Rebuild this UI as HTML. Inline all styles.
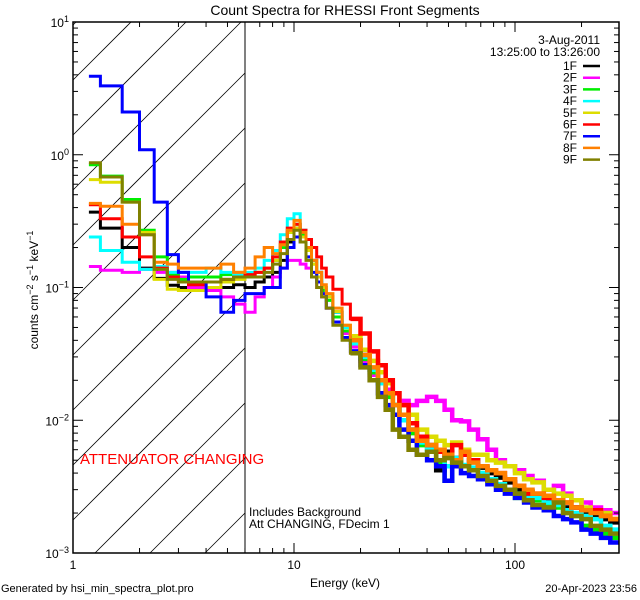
<!DOCTYPE html>
<html><head><meta charset="utf-8"><style>
html,body{margin:0;background:#fff;width:640px;height:600px;overflow:hidden;}
svg{display:block;font-family:"Liberation Sans",sans-serif;}
</style></head><body>
<svg id="chart" width="640" height="600" xmlns="http://www.w3.org/2000/svg">
<rect width="640" height="600" fill="#fff"/>
<text x="345" y="15" font-size="14" text-anchor="middle">Count Spectra for RHESSI Front Segments</text>
<defs><clipPath id="pc"><rect x="73" y="22" width="546" height="531"/></clipPath></defs>
<g id="hatch"></g>
<line x1="245" y1="22" x2="245" y2="553" stroke="#000"/>
<g id="series" clip-path="url(#pc)"></g>
<rect x="73" y="22" width="546" height="531" fill="none" stroke="#000" stroke-width="1.5"/>
<g id="axes"></g>
<text transform="translate(38,290) rotate(-90)" font-size="12" text-anchor="middle">counts cm<tspan dy="-5" font-size="9">−2</tspan><tspan dy="5"> s</tspan><tspan dy="-5" font-size="9">−1</tspan><tspan dy="5"> keV</tspan><tspan dy="-5" font-size="9">−1</tspan></text>
<text x="345" y="587" font-size="12" text-anchor="middle">Energy (keV)</text>
<text x="80" y="464" font-size="15" fill="#ff0000">ATTENUATOR CHANGING</text>
<text x="249" y="516" font-size="12">Includes Background</text>
<text x="249" y="528" font-size="12">Att CHANGING, FDecim 1</text>
<text x="1" y="592" font-size="11">Generated by hsi_min_spectra_plot.pro</text>
<text x="637" y="592" font-size="11" text-anchor="end">20-Apr-2023 23:56</text>
<text x="600" y="44" font-size="12" text-anchor="end">3-Aug-2011</text>
<text x="600" y="56" font-size="12" text-anchor="end">13:25:00 to 13:26:00</text>
<g id="legend"></g>
</svg>
<script>
const edges=[1.18,1.33,1.67,2.0,2.33,2.67,3.0,3.33,4,4.67,5.33,6,6.67,7.33,8,8.67,9.33,10,10.67,11.33,12,12.67,13.33,14,15,16.5,18,20,22,24,26,28,30,33,36,40,44,48,52,57,62,68,75,82,90,100,110,120,135,150,165,180,200,220,245,270,300];
const names=["1F","2F","3F","4F","5F","6F","7F","8F","9F"];
const colors=["#000000","#ff00ff","#00ee00","#00ffff","#dddd00","#ff0000","#0000ff","#ff8000","#808000"];
const s1F=[0.37,0.28,0.2,0.14,0.117,0.104,0.1, 0.095,0.1,0.1,0.105,0.1,0.11,0.12,0.13,0.16,0.22, 0.28,0.26,0.2,0.16,0.13,0.1,0.085,0.065,0.05,0.04, 0.031,0.024,0.02,0.016,0.013,0.011,0.0085,0.007,0.0065,0.0042, 0.0058,0.0052,0.0045,0.005,0.0044,0.004,0.0037,0.0034,0.003,0.0029, 0.0026,0.0025,0.0024,0.0022,0.0022,0.002,0.0019,0.0018,0.0017];
const s2F=[0.144,0.135,0.13,0.137,0.13,0.13,0.12, 0.1,0.095,0.085,0.075,0.065,0.085,0.1,0.12,0.14,0.16, 0.16,0.15,0.14,0.12,0.1,0.085,0.07,0.055,0.045,0.036, 0.028,0.022,0.019,0.017,0.016,0.014,0.013,0.014,0.015,0.014, 0.012,0.01,0.0098,0.0085,0.0072,0.006,0.005,0.0045,0.0042,0.0038, 0.0035,0.003,0.0032,0.0028,0.0025,0.0024,0.0022,0.0021,0.002];
const s3F=[0.84,0.69,0.46,0.27,0.17,0.125,0.115, 0.12,0.12,0.125,0.13,0.125,0.13,0.14,0.16,0.2,0.26, 0.3,0.25,0.19,0.15,0.12,0.095,0.08,0.06,0.047,0.038, 0.029,0.023,0.019,0.015,0.013,0.01,0.008,0.0065,0.006,0.0048, 0.0035,0.005,0.0045,0.0042,0.004,0.0035,0.0033,0.003,0.0026,0.0027, 0.0025,0.0023,0.0022,0.002,0.0019,0.0016,0.0015,0.0014,0.0013];
const s4F=[0.24,0.19,0.155,0.137,0.144,0.13,0.13, 0.13,0.14,0.13,0.125,0.13,0.14,0.16,0.19,0.25,0.33, 0.36,0.27,0.2,0.16,0.13,0.1,0.085,0.065,0.05,0.038, 0.03,0.024,0.019,0.016,0.013,0.01,0.0085,0.0068,0.006,0.005, 0.0045,0.0052,0.0046,0.0044,0.004,0.0036,0.0033,0.003,0.0028,0.0026, 0.0026,0.0024,0.0023,0.0021,0.002,0.0019,0.0018,0.0016,0.0015];
const s5F=[0.65,0.62,0.44,0.26,0.115,0.097,0.095, 0.095,0.1,0.11,0.115,0.12,0.13,0.14,0.16,0.21,0.26, 0.28,0.24,0.19,0.15,0.12,0.1,0.085,0.066,0.052,0.043, 0.034,0.028,0.023,0.019,0.016,0.013,0.011,0.0085,0.0075,0.007, 0.0065,0.0068,0.006,0.0055,0.0055,0.005,0.0048,0.0045,0.004,0.0036, 0.0034,0.003,0.0028,0.0027,0.0025,0.0022,0.0021,0.002,0.0018];
const s6F=[0.42,0.33,0.24,0.17,0.14,0.12,0.11, 0.105,0.11,0.115,0.12,0.125,0.13,0.14,0.17,0.22,0.28, 0.3,0.27,0.23,0.2,0.17,0.14,0.12,0.097,0.075,0.058, 0.045,0.033,0.026,0.02,0.016,0.013,0.0095,0.0075,0.0065,0.0058, 0.0052,0.0065,0.0055,0.005,0.0045,0.0042,0.004,0.0036,0.0032,0.0028, 0.0028,0.0026,0.0025,0.0024,0.0022,0.0021,0.0021,0.0019,0.0018];
const s7F=[3.9,3.3,2.1,1.09,0.44,0.177,0.13, 0.11,0.085,0.065,0.08,0.09,0.09,0.1,0.1,0.14,0.2, 0.24,0.22,0.17,0.13,0.11,0.09,0.07,0.055,0.042,0.033, 0.026,0.02,0.016,0.013,0.011,0.0085,0.007,0.0055,0.005,0.0045, 0.0035,0.0045,0.004,0.0038,0.0036,0.0033,0.003,0.0028,0.0026,0.0024, 0.0022,0.0021,0.0019,0.0018,0.0017,0.0015,0.0014,0.0013,0.0012];
const s8F=[0.43,0.41,0.30,0.25,0.155,0.15,0.14, 0.14,0.14,0.15,0.13,0.14,0.17,0.2,0.18,0.21,0.27, 0.32,0.26,0.2,0.16,0.13,0.105,0.09,0.07,0.052,0.04, 0.031,0.025,0.02,0.016,0.013,0.011,0.0085,0.007,0.0065,0.006, 0.0055,0.005,0.0058,0.0048,0.0045,0.0042,0.004,0.0036,0.0032,0.003, 0.0028,0.0027,0.0025,0.0024,0.0022,0.0021,0.002,0.0019,0.0018];
const s9F=[0.87,0.68,0.44,0.25,0.137,0.115,0.11, 0.11,0.11,0.115,0.12,0.12,0.12,0.13,0.15,0.18,0.23, 0.27,0.22,0.16,0.12,0.1,0.085,0.07,0.052,0.04,0.032, 0.025,0.02,0.015,0.012,0.0085,0.0075,0.006,0.0055,0.0058,0.005, 0.0052,0.0048,0.0045,0.0042,0.0038,0.0035,0.0032,0.003,0.0028,0.0025, 0.0023,0.0022,0.0024,0.002,0.0019,0.0018,0.0016,0.0015,0.0014];
const seriesValues=[s1F,s2F,s3F,s4F,s5F,s6F,s7F,s8F,s9F];
const xTickLabels=["1","10","100"];
const yTickExps=["1","0","−1","−2","−3"];

const NS="http://www.w3.org/2000/svg";
const X0=73,X1=619,Y0=22,Y1=553,DEC=221;
const xMin=1,xMax=Math.pow(10,(X1-X0)/DEC),yMin=1e-3,yMax=10;
function xs(e){return X0+(Math.log10(e)-Math.log10(xMin))/(Math.log10(xMax)-Math.log10(xMin))*(X1-X0);}
function ys(v){return Y1-(Math.log10(v)-Math.log10(yMin))/(Math.log10(yMax)-Math.log10(yMin))*(Y1-Y0);}
function mk(tag,attrs,parent){const el=document.createElementNS(NS,tag);for(const k in attrs)el.setAttribute(k,attrs[k]);parent.appendChild(el);return el;}

// hatch lines y = k - x, clipped arithmetically to attenuator region
const hatch=document.getElementById('hatch');
const HX1=245;
for(let k=-300;k<1000;k+=55){
  const kk=k+13;
  const xa=Math.max(X0,kk-Y1),xb=Math.min(HX1,kk-Y0);
  if(xa>=xb)continue;
  const ln=mk('line',{x1:xa,y1:kk-xa,x2:xb,y2:kk-xb,stroke:'#000','stroke-width':0.8},hatch);
  
  
}

const sg=document.getElementById('series');
const SPLIT=26;
seriesValues.forEach((vals,si)=>{
  let d1='',d2='';
  for(let i=0;i<vals.length;i++){
    const y=ys(vals[i]).toFixed(1);
    const xa=xs(edges[i]).toFixed(1),xb=Math.min(X1,xs(edges[i+1])).toFixed(1);
    if(i<=SPLIT) d1+=(i===0?'M':'L')+xa+' '+y+'L'+xb+' '+y;
    if(i>=SPLIT) d2+=(i===SPLIT?'M':'L')+xa+' '+y+'L'+xb+' '+y;
  }
  const p=mk('path',{d:d1,fill:'none',stroke:colors[si],'stroke-width':3},sg);
  
  
  const p2=mk('path',{d:d2,fill:'none',stroke:colors[si],'stroke-width':4.5},sg);
  
  
});

const ax=document.getElementById('axes');
for(let dec=0;dec<=2;dec++){
  for(let m=1;m<=9;m++){
    const e=m*Math.pow(10,dec);
    if(e>xMax)break;
    const x=xs(e),L=m===1?10:5;
    const t1=mk('line',{x1:x,y1:Y1,x2:x,y2:Y1-L,stroke:'#000'},ax);
    
    
    const t2=mk('line',{x1:x,y1:Y0,x2:x,y2:Y0+L,stroke:'#000'},ax);
    
    
    if(m===1){
      const tl=mk('text',{x:x,y:Y1+16,'font-size':12,'text-anchor':'middle'},ax);
      tl.textContent=xTickLabels[dec];
      
      
    }
  }
}
for(let dec=-3;dec<=1;dec++){
  for(let m=1;m<=9;m++){
    const v=m*Math.pow(10,dec);
    if(v>yMax+1e-9)break;
    const y=ys(v),L=m===1?10:5;
    const t1=mk('line',{x1:X0,y1:y,x2:X0+L,y2:y,stroke:'#000'},ax);
    
    
    const t2=mk('line',{x1:X1,y1:y,x2:X1-L,y2:y,stroke:'#000'},ax);
    
    
    if(m===1){
      const tl=mk('text',{x:X0-4,y:y+5,'font-size':12,'text-anchor':'end'},ax);
      
      
      const b=document.createElementNS(NS,'tspan');b.textContent='10';tl.appendChild(b);
      const s=document.createElementNS(NS,'tspan');s.setAttribute('dy','-5');s.setAttribute('font-size','9');
      s.textContent=yTickExps[1-dec];tl.appendChild(s);
    }
  }
}

const lg=document.getElementById('legend');
names.forEach((n,i)=>{
  const y=66+i*11.7;
  const t=mk('text',{x:577,y:y+4,'font-size':12,'text-anchor':'end'},lg);
  t.textContent=n;
  
  
  const l=mk('line',{x1:583,y1:y,x2:600,y2:y,stroke:colors[i],'stroke-width':2.5},lg);
  
  
});
</script>
</body></html>
